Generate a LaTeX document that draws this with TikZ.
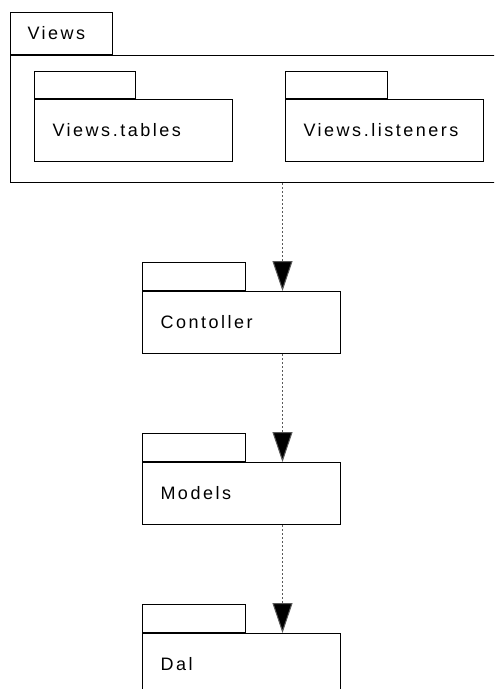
\documentclass[tikz,border=0pt]{standalone}
\usepackage{fontspec}
\setmainfont{Liberation Sans}[LetterSpace=14]
\usetikzlibrary{arrows.meta}
\begin{document}
\begin{tikzpicture}[x=0.75pt, y=-0.75pt, line width=0.75pt,
      font=\fontsize{13.5}{16}\selectfont,
      pkg/.style={draw, fill=white, anchor=north west, minimum width=148.5pt, minimum height=46.5pt,
        inner xsep=13.5pt, text width=121.5pt, align=left},
      tab/.style={draw, fill=white, anchor=south west, minimum width=77pt, minimum height=21pt, inner sep=0pt},
      dep/.style={draw=black!65, dash pattern=on 1.5pt off 1.5pt, line width=1.4pt,
        -{Triangle[width=15pt, length=22.5pt, fill=black, line width=0.75pt]}}]
    \clip (0,0) rectangle (494,689);
    % outer package
    \node[draw, anchor=north west, minimum width=390pt, minimum height=95.25pt, inner sep=0pt] (views) at (10,55) {};
    \node[tab, minimum width=76.5pt, minimum height=31.5pt, inner xsep=12.75pt, text width=51pt, align=left] (viewstab) at (views.north west) {Views};
    % inner packages
    \node[pkg, minimum width=147pt] (tables) at (34,99) {Views.tables};
    \node[tab, minimum width=75.75pt, minimum height=20.25pt] (tablestab) at (tables.north west) {};
    \node[pkg, minimum width=147.75pt] (listeners) at (285,99) {Views.listeners};
    \node[tab, minimum width=76.5pt, minimum height=20.25pt] (listenerstab) at (listeners.north west) {};
    % layers below
    \node[pkg] (ctrl) at (142,291) {Contoller};
    \node[tab] (ctrltab) at (ctrl.north west) {};
    \node[pkg] (models) at (142,462) {Models};
    \node[tab] (modelstab) at (models.north west) {};
    \node[pkg] (dal) at (142,633) {Dal};
    \node[tab] (daltab) at (dal.north west) {};
    % dependencies
    \coordinate (c1) at ([xshift=30.75pt]ctrl.north);
    \draw[dep] (views.south -| c1) -- (c1);
    \draw[dep] ([xshift=30.75pt]ctrl.south) -- ([xshift=30.75pt]models.north);
    \draw[dep] ([xshift=30.75pt]models.south) -- ([xshift=30.75pt]dal.north);
  \end{tikzpicture}
\end{document}
